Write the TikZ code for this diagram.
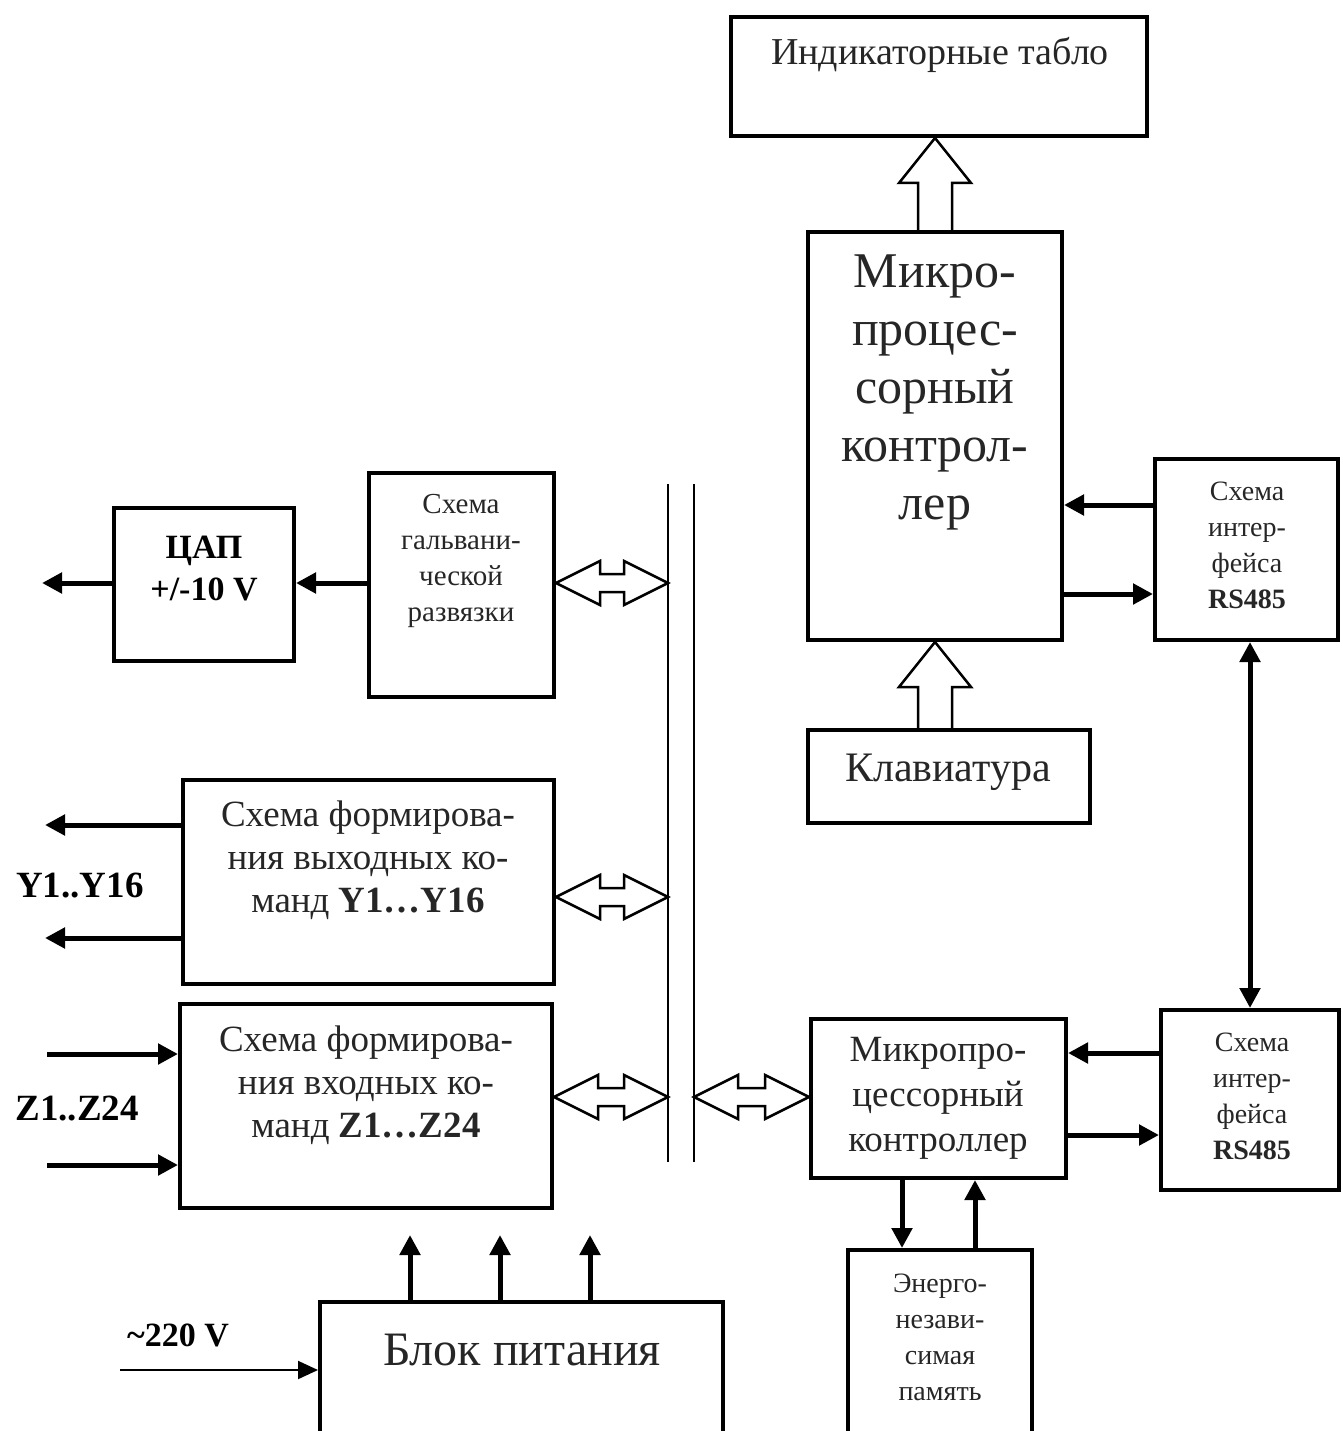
\documentclass[tikz,border=0pt]{standalone}
\usepackage{fontspec}
\setmainfont{Liberation Serif}
\usetikzlibrary{arrows.meta,calc}

\tikzset{
  blk/.style={draw, line width=4pt, inner sep=0pt},
  txt/.style={align=center, inner sep=0pt, text=black!85},
  lbl/.style={align=center, inner sep=0pt, font=\bfseries},
  sig/.style={line width=5pt, -{Triangle[length=20pt,width=20pt]}},
  hol/.style={draw, line width=2.5pt, line join=miter},
  bus/.style={line width=2pt},
}
\newcommand{\fs}[2]{\fontsize{#1}{#2}\selectfont}
% hollow double arrow to the bus
\newcommand{\dblhol}[2]{%
  \draw[hol] let \p1=(#1), \p2=(#2) in
    (\x1,\y1) -- (\x1+44pt,\y1+22pt) -- (\x1+44pt,\y1+9pt) -- (\x2-44pt,\y1+9pt)
    -- (\x2-44pt,\y1+22pt) -- (\x2,\y1) -- (\x2-44pt,\y1-22pt) -- (\x2-44pt,\y1-9pt)
    -- (\x1+44pt,\y1-9pt) -- (\x1+44pt,\y1-22pt) -- cycle;}
% hollow arrow pointing up
\newcommand{\uphol}[2]{%
  \draw[hol] let \p1=(#1), \p2=(#2) in
    (\x1-17pt,\y1) -- (\x1-17pt,\y2-45pt) -- (\x1-36pt,\y2-45pt) -- (\x1,\y2)
    -- (\x1+36pt,\y2-45pt) -- (\x1+17pt,\y2-45pt) -- (\x1+17pt,\y1);}

\begin{document}
\begin{tikzpicture}[x=1pt, y=-1pt]
\useasboundingbox (0,0) rectangle (1342,1431);
\clip (0,0) rectangle (1342,1431);

% blocks
\node[blk, minimum width=416pt, minimum height=119pt] (ind) at (939,76.5) {};
\node[blk, minimum width=254pt, minimum height=408pt] (mc) at (935,436) {};
\node[blk, minimum width=282pt, minimum height=93pt] (kbd) at (949,776.5) {};
\node[blk, minimum width=183pt, minimum height=181pt] (rsa) at (1246.5,549.5) {};
\node[blk, minimum width=178pt, minimum height=180pt] (rsb) at (1250,1100) {};
\node[blk, minimum width=255pt, minimum height=159pt] (mcs) at (938.5,1098.5) {};
\node[blk, minimum width=184pt, minimum height=195pt] (mem) at (940,1347.5) {};
\node[blk, minimum width=180pt, minimum height=153pt] (dac) at (204,584.5) {};
\node[blk, minimum width=185pt, minimum height=224pt] (gal) at (461.5,585) {};
\node[blk, minimum width=371pt, minimum height=204pt] (ybox) at (368.5,882) {};
\node[blk, minimum width=372pt, minimum height=204pt] (zbox) at (366,1106) {};
\node[blk, minimum width=403pt, minimum height=143pt] (psu) at (521.5,1373.5) {};

% texts
\node[txt, font=\fs{38}{44}] at (940,55) {Индикаторные табло};
\node[txt, font=\fs{50}{58}] at (935,392) {Микро-\\процес-\\сорный\\контрол-\\лер};
\node[txt, font=\fs{42}{48}] at (948,772) {Клавиатура};
\node[txt, font=\fs{28}{36}] at (1247,545) {Схема\\интер-\\фейса\\\textbf{RS485}};
\node[txt, font=\fs{28}{36}] at (1252,1096) {Схема\\интер-\\фейса\\\textbf{RS485}};
\node[txt, font=\fs{37}{45}] at (938,1098) {Микропро-\\цессорный\\контроллер};
\node[txt, font=\fs{28}{36}] at (940,1337) {Энерго-\\незави-\\симая\\память};
\node[lbl, font=\fs{34}{42}\bfseries] at (204,569) {ЦАП\\+/-10 V};
\node[txt, font=\fs{29}{36}] at (461,561) {Схема\\гальвани-\\ческой\\развязки};
\node[txt, font=\fs{37}{43}] at (368,860) {Схема формирова-\\ния выходных ко-\\манд \textbf{Y1…Y16}};
\node[txt, font=\fs{37}{43}] at (366,1085) {Схема формирова-\\ния входных ко-\\манд \textbf{Z1…Z24}};
\node[txt, font=\fs{48}{54}] at (522,1350) {Блок питания};
\node[lbl, font=\fs{37}{42}\bfseries] (ylab) at (80,886) {Y1..Y16};
\node[lbl, font=\fs{37}{42}\bfseries] (zlab) at (77,1108) {Z1..Z24};
\node[lbl, font=\fs{34}{40}\bfseries] (vlab) at (178,1335) {\textasciitilde220 V};

% bus
\coordinate (busLt) at (668,484);
\coordinate (busLb) at (668,1162);
\coordinate (busRt) at (694,484);
\coordinate (busRb) at (694,1162);
\draw[bus] (busLt) -- (busLb);
\draw[bus] (busRt) -- (busRb);

% hollow arrows
\uphol{mc.north}{ind.south}
\uphol{mc.south |- kbd.north}{mc.south}
\dblhol{gal.east |- 0,583}{busLt |- 0,583}
\dblhol{ybox.east |- 0,897}{busLt |- 0,897}
\dblhol{zbox.east |- 0,1097}{busLt |- 0,1097}
\dblhol{busRt |- 0,1097}{mcs.west |- 0,1097}

% free ends
\coordinate (dacout) at (42,583);
\coordinate (yo1) at (45,825);
\coordinate (yo2) at (45,938);
\coordinate (zi1) at (47,1054);
\coordinate (zi2) at (47,1165);
\coordinate (mains) at (120,1370);
\coordinate (p1) at (410,1235);
\coordinate (p2) at (500,1235);
\coordinate (p3) at (590,1235);

% signal arrows
\draw[sig] (rsa.west |- 0,505) -- (mc.east |- 0,505);
\draw[sig] (mc.east |- 0,594) -- (rsa.west |- 0,594);
\draw[sig, {Triangle[length=20pt,width=20pt]}-{Triangle[length=20pt,width=20pt]}] (rsa.south -| 1250,0) -- (rsb.north -| 1250,0);
\draw[sig] (rsb.west |- 0,1053) -- (mcs.east |- 0,1053);
\draw[sig] (mcs.east |- 0,1135) -- (rsb.west |- 0,1135);
\draw[sig] (mcs.south -| 902,0) -- (mem.north -| 902,0);
\draw[sig] (mem.north -| 975,0) -- (mcs.south -| 975,0);
\draw[sig] (gal.west |- dacout) -- (dac.east |- dacout);
\draw[sig] (dac.west |- dacout) -- (dacout);
\draw[sig] (ybox.west |- yo1) -- (yo1);
\draw[sig] (ybox.west |- yo2) -- (yo2);
\draw[sig] (zi1) -- (zbox.west |- zi1);
\draw[sig] (zi2) -- (zbox.west |- zi2);
\foreach \p in {p1,p2,p3}
  \draw[sig] (psu.north -| \p) -- (\p);
\draw[line width=2pt, -{Triangle[length=20pt,width=18pt]}] (mains) -- (psu.west |- mains);
\end{tikzpicture}
\end{document}
